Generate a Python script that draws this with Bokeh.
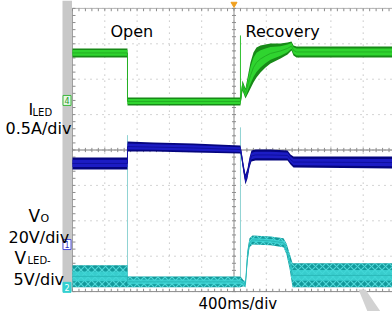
import numpy as np
from bokeh.plotting import figure
from bokeh.models import Range1d, Label, BoxAnnotation
from bokeh.embed import file_html
from bokeh.resources import INLINE

# ---------------- data (read from the scope capture) ----------------
# time in ms, 400 ms/div, t=0 at the left edge of the graticule
# I_LED (A), 0.5 A/div
I_T  = [0, 681, 681, 2080, 2105, 2142, 2180, 2204, 2241, 2279, 2328, 2390, 2452, 2576, 2663, 2712, 2737, 2774, 3963]
I_UP = [0.735, 0.735, 0.042, 0.042, 0.282, 0.169, 0.395, 0.537, 0.678, 0.749, 0.777, 0.791, 0.805, 0.805, 0.819, 0.833, 0.777, 0.763, 0.763]
I_LO = [0.607, 0.607, -0.071, -0.071, 0.141, 0.028, 0.113, 0.169, 0.254, 0.325, 0.395, 0.466, 0.523, 0.593, 0.650, 0.706, 0.636, 0.607, 0.607]
I_SPIKE_T = [2080]
I_SPIKE_BASE = [0.0]
I_SPIKE_PEAK = [0.918]

# V_O (V), 20 V/div
VO_T  = [0, 681, 681, 1000, 1500, 2080, 2092, 2117, 2142, 2167, 2192, 2216, 2266, 2452, 2663, 2700, 2737, 3963]
VO_UP = [49.2, 49.2, 58.2, 57.6, 57.1, 55.9, 53.1, 45.8, 39.6, 42.9, 49.2, 53.1, 53.7, 53.7, 53.1, 50.9, 49.7, 49.7]
VO_LO = [42.4, 42.4, 52.5, 52.5, 52.0, 51.4, 48.6, 40.7, 33.9, 37.3, 43.5, 46.9, 47.5, 47.5, 47.5, 45.2, 43.5, 42.9]

# V_LED- (V), 5 V/div
VL_T  = [0, 681, 681, 2080, 2117, 2142, 2167, 2192, 2229, 2452, 2613, 2650, 2688, 2725, 3963]
VL_UP = [3.11, 3.11, 1.55, 1.55, 0.99, 0.85, 5.23, 6.92, 7.34, 7.20, 6.92, 6.21, 4.80, 3.39, 3.39]
VL_LO = [0.0, 0.0, 0.0, 0.0, 0.14, 0.0, 3.53, 5.65, 6.07, 5.93, 5.65, 4.66, 2.68, 0.0, 0.0]
VL_SPIKE_T = [681, 2080]
VL_SPIKE_BASE = [1.5, 1.5]
VL_SPIKE_PEAK = [21.5, 22.6]

# scope settings: (amps or volts per div, ground position in divisions from centre)
CH_I = (0.5, 1.40)
CH_VO = (20.0, -2.67)
CH_VL = (5.0, -3.88)
TIME_PER_DIV = 400

# ---------------- layout helpers (picture pixels -> graticule units) ----------------
X0_PX, DIVX = 72.0, 32.3
YC_PX, DIVY = 149.5, 35.4
W, H = 392, 311


def tx(px):
    return (px - X0_PX) / DIVX * TIME_PER_DIV


def ty(py):
    return (YC_PX - py) / DIVY


YMIN, YMAX = ty(H), ty(0)


def ch_range(ch):
    scale, g = ch
    return Range1d((YMIN - g) * scale, (YMAX - g) * scale)


p = figure(width=W, height=H, x_range=Range1d(tx(0), tx(W)),
           y_range=Range1d(YMIN, YMAX), output_backend="svg",
           toolbar_location=None, min_border=0, outline_line_color=None,
           background_fill_color="white", border_fill_color="white")
p.extra_y_ranges = {"ch_i": ch_range(CH_I), "ch_vo": ch_range(CH_VO), "ch_vl": ch_range(CH_VL)}
p.xaxis.visible = False
p.yaxis.visible = False
p.grid.visible = False

# left gray strip of the scope screen
p.add_layout(BoxAnnotation(left=tx(62), right=tx(71.5), bottom=-4.0, fill_color="#c8c8c8",
                           fill_alpha=1, line_color=None, level="underlay"))

# dotted graticule
gx = np.arange(0, 4001, TIME_PER_DIV)
gy = np.arange(-4, 5, 1)
grid_c = "#a8a8a8"
p.segment(x0=gx, y0=-4, x1=gx, y1=4, line_color=grid_c, line_dash="1 5")
p.segment(x0=0, y0=gy, x1=4000, y1=gy, line_color=grid_c, line_dash="1 5")

# centre axes and borders
p.segment(x0=[0, 2000, 0, 0, 0], y0=[0, -4, -4, -4, 4], x1=[4000, 2000, 4000, 0, 4000], y1=[0, 4, -4, 4, 4],
          line_color=["#7a7a7a", "#909090", "#8a8a8a", "#a0a0a0", "#b4b4b4"], line_width=1)

xs = np.arange(0, 4001, TIME_PER_DIV / 5)
ys = np.arange(-4, 4.01, 0.2)
tick_c = "#8c8c8c"
p.segment(x0=xs, y0=-0.06, x1=xs, y1=0.06, line_color=tick_c)
p.segment(x0=xs, y0=4.0, x1=xs, y1=3.92, line_color=tick_c)
p.segment(x0=xs, y0=-4.0, x1=xs, y1=-3.92, line_color=tick_c)
p.segment(x0=2000 - 25, y0=ys, x1=2000 + 25, y1=ys, line_color=tick_c)
p.segment(x0=0, y0=ys, x1=37, y1=ys, line_color=tick_c)

# watermark stroke
p.patch(x=[tx(358), tx(365), tx(380), tx(367)], y=[ty(289), ty(289), ty(311), ty(311)],
        fill_color="#d2d2d2", line_color=None)


def band(t, up, lo, rng, outer, core, frac, line_col, hatch=None):
    t = np.array(t, float)
    up = np.array(up, float)
    lo = np.array(lo, float)
    c = (up + lo) / 2
    h = (up - lo)
    kw = {}
    if hatch:
        kw = dict(hatch_pattern="x", hatch_color=hatch, hatch_scale=7, hatch_weight=1.2, hatch_alpha=0.8)
    p.varea(x=t, y1=lo, y2=up, fill_color=outer, y_range_name=rng, **kw)
    p.varea(x=t, y1=c - frac * h, y2=c + frac * h, fill_color=core, fill_alpha=0.85 if hatch else 1,
            y_range_name=rng)
    p.line(x=t, y=c, line_color=line_col, line_width=1, y_range_name=rng)


# cyan channel
p.segment(x0=VL_SPIKE_T, y0=VL_SPIKE_BASE, x1=VL_SPIKE_T, y1=VL_SPIKE_PEAK,
          line_color="#8fd3d3", line_width=1, y_range_name="ch_vl")
band(VL_T, VL_UP, VL_LO, "ch_vl", "#13999b", "#3fd6d6", 0.22, "#2ab8b8", hatch="#5ee6e6")

# blue channel
band(VO_T, VO_UP, VO_LO, "ch_vo", "#05057e", "#1c1cc4", 0.3, "#1010a0")

# green channel
p.segment(x0=I_SPIKE_T, y0=I_SPIKE_BASE, x1=I_SPIKE_T, y1=I_SPIKE_PEAK,
          line_color="#30c030", line_width=1, y_range_name="ch_i")
band(I_T, I_UP, I_LO, "ch_i", "#178a17", "#2fd42f", 0.32, "#22b022")

# channel ground markers
for rng, fill, edge, txt, tcol in [("ch_i", "#e6f7e6", "#3cb83c", "4", "#2a9a2a"),
                                   ("ch_vo", "#ffffff", "#5050d8", "1", "#3030c0"),
                                   ("ch_vl", "#34d0d0", "#34d0d0", "2", "#ffffff")]:
    p.rect(x=[tx(66.5)], y=[0], width=8, height=10, width_units="screen", height_units="screen",
           fill_color=fill, line_color=edge, y_range_name=rng)
    p.add_layout(Label(x=tx(66.5), y=0, text=txt, y_range_name=rng, text_font="DejaVu Sans",
                       text_font_size="8px", text_color=tcol, text_align="center",
                       text_baseline="middle"))

# trigger marker
p.scatter(x=[2000], y=[ty(3.5)], marker="inverted_triangle", size=6, fill_color="#f0a020",
          line_color="#f0a020")

FONT = "DejaVu Sans"


def lab(px, py, text, size="16px"):
    p.add_layout(Label(x=tx(px), y=ty(py), text=text, text_font=FONT, text_font_size=size,
                       text_color="black", text_baseline="alphabetic", text_align="left"))


lab(110, 31, "Open")
lab(245, 31, "Recovery")
lab(28, 109, "I")
lab(32, 112, "LED", "10px")
lab(5, 128, "0.5A/div")
lab(28, 215, "V", "17px")
lab(40, 218, "O", "11px")
lab(8, 237, "20V/div")
lab(14, 257, "V", "17px")
lab(27, 260, "LED-", "10px")
lab(13, 279, "5V/div")
lab(198, 303, "400ms/div", "15px")

open("out.html", "w").write(file_html(p, INLINE))
